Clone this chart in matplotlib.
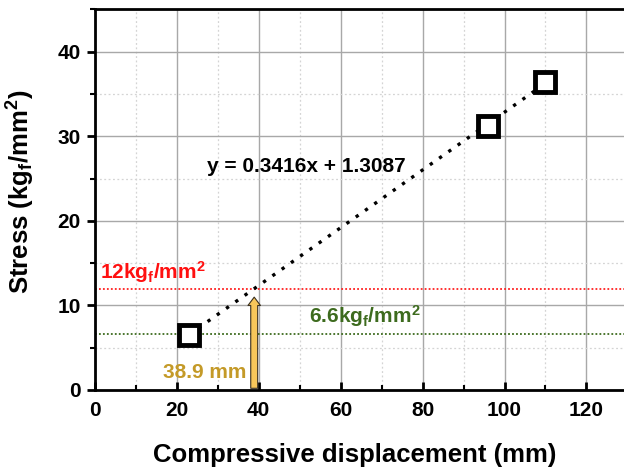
import matplotlib
matplotlib.use("Agg")
import matplotlib.pyplot as plt
import numpy as np
from matplotlib.ticker import MultipleLocator

plt.rcParams['font.family'] = ['Liberation Sans', 'DejaVu Sans']
plt.rcParams['font.weight'] = 'bold'
plt.rcParams['mathtext.default'] = 'regular'

# Data
disp = [23.0, 96.0, 110.0]
stress = [6.5, 31.2, 36.4]
fit_slope = 0.3416
fit_intercept = -1.3087
equation_text = "y = 0.3416x + 1.3087"
limit_high = 12.0
limit_low = 6.6
cross_disp = 38.9

fig = plt.figure(figsize=(6.24, 4.71), dpi=100)
ax = fig.add_axes([0.152, 0.172, 0.8535, 0.808])

ax.set_xlim(0, 130)
ax.set_ylim(0, 45)
ax.xaxis.set_major_locator(MultipleLocator(20))
ax.xaxis.set_minor_locator(MultipleLocator(10))
ax.yaxis.set_major_locator(MultipleLocator(10))
ax.yaxis.set_minor_locator(MultipleLocator(5))
ax.set_xticks([0, 20, 40, 60, 80, 100, 120])
ax.set_yticks([0, 10, 20, 30, 40])

ax.grid(which='major', color='#a8a8a8', lw=1.0, ls='-')
ax.grid(which='minor', color='#d4d4d4', lw=0.9, ls=(0, (1.5, 2)))
ax.set_axisbelow(True)

for s in ['left', 'bottom', 'top']:
    ax.spines[s].set_linewidth(2)
ax.spines['right'].set_visible(False)

ax.tick_params(axis='x', which='major', direction='in', length=6, width=2, pad=8, labelsize=15)
ax.tick_params(axis='x', which='minor', direction='in', length=3.5, width=1.5)
ax.tick_params(axis='y', which='major', direction='out', length=6, width=2, pad=4, labelsize=15)
ax.tick_params(axis='y', which='minor', direction='out', length=3.5, width=1.5)

# Horizontal limit lines
ax.axhline(limit_high, color='#ff2020', lw=1.3, ls=(0, (1, 1.2)), zorder=2)
ax.axhline(limit_low, color='#3d6b1e', lw=1.3, ls=(0, (1, 1.2)), zorder=2)

# Fit line
xf = np.array([disp[0], disp[-1]])
ax.plot(xf, fit_slope * xf + fit_intercept, color='black', lw=2.4, ls=(0, (1, 2.4)), zorder=3)

# Data markers
ax.plot(disp, stress, ls='none', marker='s', ms=14, mfc='white', mec='black', mew=3.5, zorder=5)

# Arrow
tip = fit_slope * cross_disp + fit_intercept - 1.0
ax.annotate('', xy=(cross_disp, tip), xytext=(cross_disp, 0.2),
            arrowprops=dict(arrowstyle='simple,head_width=0.9,head_length=0.6,tail_width=0.5',
                            fc='#f7c65a', ec='#3a3020', lw=0.8, shrinkA=0, shrinkB=0), zorder=4)

ax.text(37.1, 1.4, '38.9 mm', color='#c49a28', fontsize=15, fontweight='bold', ha='right', va='baseline')
ax.text(1.2, 13.2, r'12kg$_f$/mm$^2$', color='#ff1010', fontsize=15, fontweight='bold', ha='left', va='baseline')
ax.text(52.2, 7.9, r'6.6kg$_f$/mm$^2$', color='#3d6b1e', fontsize=15, fontweight='bold', ha='left', va='baseline')
ax.text(51.7, 25.8, equation_text, color='black', fontsize=15, fontweight='bold', ha='center', va='baseline')

ax.set_xlabel('Compressive displacement (mm)', fontsize=18.5, fontweight='bold')
ax.set_ylabel(r'Stress (kg$_f$/mm$^2$)', fontsize=18.5, fontweight='bold')
ax.xaxis.set_label_coords(0.488, -0.14)
ax.yaxis.set_label_coords(-0.109, 0.52)

fig.savefig('out.png', dpi=100)
